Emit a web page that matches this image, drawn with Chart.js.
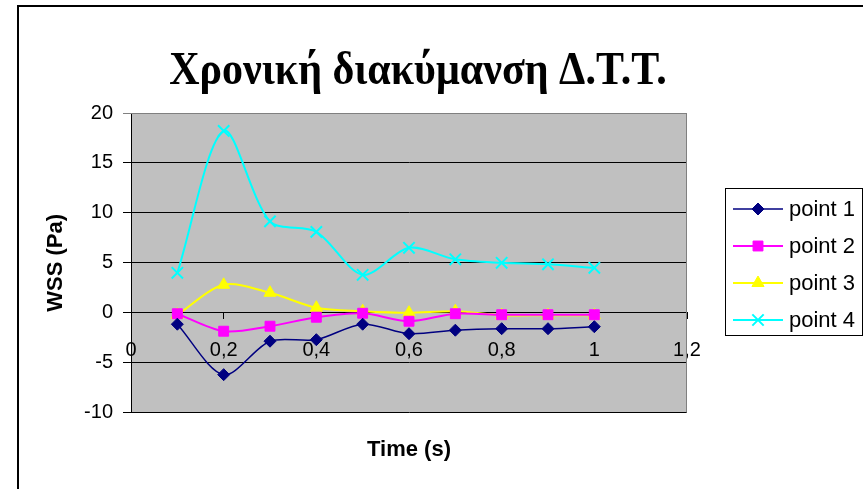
<!DOCTYPE html>
<html>
<head>
<meta charset="utf-8">
<script src="https://cdn.jsdelivr.net/npm/chart.js@4.4.0/dist/chart.umd.min.js"></script>
<style>
  html, body { margin: 0; padding: 0; background: #fff; }
</style>
</head>
<body>
<canvas id="myChart" width="863" height="489"></canvas>
<script>
//DATOS
const tiempos = [0.1, 0.2, 0.3, 0.4, 0.5, 0.6, 0.7, 0.8, 0.9, 1.0];
const point1 = [-1.15, -6.2, -2.85, -2.7, -1.15, -2.1, -1.75, -1.6, -1.6, -1.4];
const point2 = [-0.1, -1.85, -1.35, -0.45, -0.05, -0.85, -0.1, -0.2, -0.2, -0.2];
const point3 = [-0.2, 2.8, 2.0, 0.5, 0.15, 0, 0.15, -0.25, -0.25, -0.25];
const point4 = [4.0, 18.2, 9.15, 8.1, 3.8, 6.5, 5.35, 5.0, 4.85, 4.5];
const nombresSeries = ["point 1", "point 2", "point 3", "point 4"];
const xTickLabels = ["0", "0,2", "0,4", "0,6", "0,8", "1", "1,2"];
const yTickLabels = ["-10", "-5", "0", "5", "10", "15", "20"];
const titulo = "Χρονική διακύμανση Δ.Τ.Τ.";

const FUENTE = "'Liberation Sans', Arial, sans-serif";

function puntos(valores) {
  return tiempos.map((t, i) => ({ x: t, y: valores[i] }));
}

function serie(nombre, valores, color, estilo, radio, ancho) {
  return {
    label: nombre,
    data: puntos(valores),
    borderColor: color,
    backgroundColor: color,
    borderWidth: ancho,
    pointStyle: estilo,
    pointRadius: radio,
    pointHoverRadius: radio,
    pointBackgroundColor: color,
    pointBorderColor: color,
    pointBorderWidth: estilo === "crossRot" ? 2 : 1,
    tension: 0.3,
    fill: false,
  };
}

// fondo gris del area del grafico
const fondoPlot = {
  id: "fondoPlot",
  beforeDraw(chart) {
    const ctx = chart.ctx;
    const a = chart.chartArea;
    ctx.save();
    ctx.fillStyle = "#fff";
    ctx.fillRect(0, 0, chart.width, chart.height);
    ctx.fillStyle = "#c0c0c0";
    ctx.fillRect(a.left, a.top, a.right - a.left, a.bottom - a.top);
    ctx.restore();
  },
  afterDraw(chart) {
    const ctx = chart.ctx;
    const a = chart.chartArea;
    ctx.save();
    // borde gris del plot
    ctx.strokeStyle = "#808080";
    ctx.lineWidth = 1;
    ctx.beginPath();
    ctx.moveTo(a.left, a.top + 0.5);
    ctx.lineTo(a.right - 0.5, a.top + 0.5);
    ctx.lineTo(a.right - 0.5, a.bottom);
    ctx.stroke();
    // marco exterior
    ctx.strokeStyle = "#000";
    ctx.lineWidth = 2;
    ctx.beginPath();
    ctx.moveTo(18, chart.height + 5);
    ctx.lineTo(18, 6);
    ctx.lineTo(chart.width + 5, 6);
    ctx.stroke();
    // titulo
    ctx.fillStyle = "#000";
    ctx.textAlign = "center";
    ctx.textBaseline = "alphabetic";
    ctx.font = "bold 42px 'Liberation Serif', 'Times New Roman', serif";
    ctx.translate(418, 84);
    ctx.scale(1, 1.12);
    ctx.fillText(titulo, 0, 0);
    ctx.restore();

    // leyenda
    ctx.save();
    ctx.strokeStyle = "#000";
    ctx.lineWidth = 1;
    ctx.strokeRect(725.5, 188.5, 137, 147);
    chart.data.datasets.forEach((ds, i) => {
      const y = 209 + i * 37;
      ctx.strokeStyle = ds.borderColor;
      ctx.lineWidth = ds.borderWidth;
      ctx.beginPath();
      ctx.moveTo(733, y);
      ctx.lineTo(783, y);
      ctx.stroke();
      ctx.fillStyle = ds.pointBackgroundColor;
      ctx.strokeStyle = ds.pointBorderColor;
      ctx.lineWidth = ds.pointBorderWidth;
      Chart.helpers.drawPoint(ctx, {
        pointStyle: ds.pointStyle,
        radius: ds.pointRadius,
        rotation: 0,
        borderWidth: ds.pointBorderWidth,
      }, 758, y);
      ctx.fillStyle = "#000";
      ctx.font = "22px " + FUENTE;
      ctx.textAlign = "left";
      ctx.textBaseline = "middle";
      ctx.fillText(ds.label, 789, y + 1);
    });
    ctx.restore();
  },
};

const data = {
  datasets: [
    serie(nombresSeries[0], point1, "#000080", "rectRot", 6, 1.5),
    serie(nombresSeries[1], point2, "#ff00ff", "rect", 7, 2),
    serie(nombresSeries[2], point3, "#ffff00", "triangle", 7, 2),
    serie(nombresSeries[3], point4, "#00ffff", "crossRot", 8, 2),
  ],
};

const config = {
  type: "line",
  data: data,
  plugins: [fondoPlot],
  options: {
    responsive: false,
    animation: false,
    layout: { padding: { left: 40, right: 176, top: 113, bottom: 0 } },
    plugins: {
      legend: { display: false },
      title: { display: false },
      tooltip: { enabled: false },
    },
    scales: {
      x: {
        type: "linear",
        min: 0,
        max: 1.2,
        position: { y: 0 },
        grid: { drawOnChartArea: false, drawTicks: true, tickLength: 6, color: "#000" },
        border: { display: true, color: "#000", width: 1 },
        ticks: {
          stepSize: 0.2,
          padding: 20,
          color: "#000",
          font: { family: FUENTE, size: 20 },
          maxRotation: 0,
          callback: (v, i) => xTickLabels[i],
        },
      },
      x2: {
        type: "linear",
        position: "bottom",
        grid: { display: false, drawTicks: false },
        border: { display: false },
        ticks: { display: false },
        title: {
          display: true,
          text: "Time (s)",
          color: "#000",
          font: { family: FUENTE, size: 22, weight: "bold" },
          padding: { top: 24, bottom: 26 },
        },
      },
      y: {
        min: -10,
        max: 20,
        afterFit: (scale) => { scale.width = 91; },
        grid: {
          color: (c) => (c.tick && c.tick.value === 20 ? "#808080" : "#000"),
          lineWidth: 1,
          tickLength: 8,
        },
        border: { display: true, color: "#000", width: 1 },
        ticks: {
          stepSize: 5,
          padding: 10,
          color: "#000",
          font: { family: FUENTE, size: 20 },
          callback: (v, i) => yTickLabels[i],
        },
        title: {
          display: true,
          text: "WSS (Pa)",
          color: "#000",
          font: { family: FUENTE, size: 22, weight: "bold" },
          padding: { top: 3, bottom: 0 },
        },
      },
    },
  },
};

const myChart = new Chart(document.getElementById("myChart"), config);
</script>
</body>
</html>
